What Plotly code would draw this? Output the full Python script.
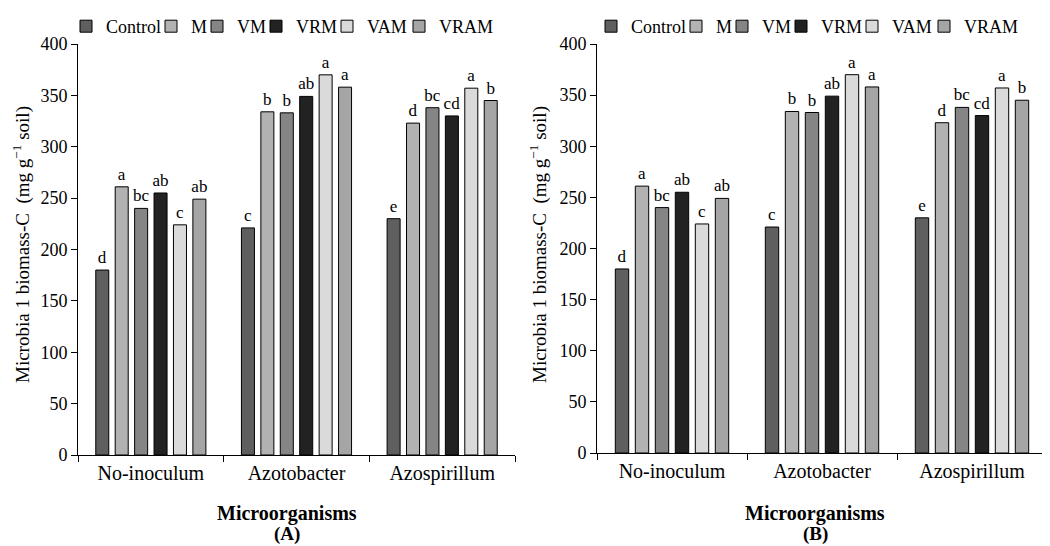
import plotly.graph_objects as go

categories = ["No-inoculum", "Azotobacter", "Azospirillum"]
treatments = ["Control", "M", "VM", "VRM", "VAM", "VRAM"]
colors = ["#5f5f5f", "#b2b2b2", "#858585", "#222222", "#dadada", "#a5a5a5"]

# values per treatment across the three microorganism groups (panel A)
values_A = {
    "Control": [180, 221, 230],
    "M": [261, 334, 323],
    "VM": [240, 333, 338],
    "VRM": [255, 349, 330],
    "VAM": [224, 370, 357],
    "VRAM": [249, 358, 345],
}
letters_A = {
    "Control": ["d", "c", "e"],
    "M": ["a", "b", "d"],
    "VM": ["bc", "b", "bc"],
    "VRM": ["ab", "ab", "cd"],
    "VAM": ["c", "a", "a"],
    "VRAM": ["ab", "a", "b"],
}
# panel B
values_B = {
    "Control": [180, 221, 230],
    "M": [261, 334, 323],
    "VM": [240, 333, 338],
    "VRM": [255, 349, 330],
    "VAM": [224, 370, 357],
    "VRAM": [249, 358, 345],
}
letters_B = {
    "Control": ["d", "c", "e"],
    "M": ["a", "b", "d"],
    "VM": ["bc", "b", "bc"],
    "VRM": ["ab", "ab", "cd"],
    "VAM": ["c", "a", "a"],
    "VRAM": ["ab", "a", "b"],
}
y_ticks = [0, 50, 100, 150, 200, 250, 300, 350, 400]

FONT = "Liberation Serif, Times New Roman, serif"
PAGE_OFF = 8            # default body margin of the written page
W, H = 1050 - PAGE_OFF, 546 - PAGE_OFF

# layout: screen-pixel x of each legend key centre (left panel); right panel offset
LEGEND_KEY_X = [86, 171, 217, 276, 347, 419]
RIGHT_OFFSET = 525
LEGEND_KEY_DX = 20  # legend box left edge -> key centre

def px_x(p):
    return (p - PAGE_OFF) / W

def px_y(p):
    return (H - (p - PAGE_OFF)) / H

fig = go.Figure()
legend_layouts = {}
n = 0
for panel, (vals, lets, xa, ya, off) in enumerate([
    (values_A, letters_A, "x", "y", 0),
    (values_B, letters_B, "x2", "y2", RIGHT_OFFSET),
]):
    for i, (t, c) in enumerate(zip(treatments, colors)):
        n += 1
        leg = "legend" if n == 1 else f"legend{n}"
        fig.add_trace(go.Bar(
            x=categories, y=vals[t], name=t,
            marker=dict(color=c, line=dict(color="#000000", width=1)),
            text=lets[t], textposition="outside", constraintext="none",
            textfont=dict(family=FONT, size=17, color="#000"),
            cliponaxis=False,
            xaxis=xa, yaxis=ya, legend=leg,
        ))
        legend_layouts[leg] = dict(
            orientation="h", x=px_x(LEGEND_KEY_X[i] + off - LEGEND_KEY_DX), xanchor="left",
            y=1, yanchor="top", font=dict(family=FONT, size=18, color="#000"),
            itemwidth=30, bgcolor="rgba(0,0,0,0)", borderwidth=0,
        )

axis_common_x = dict(
    type="category", range=[-0.5, 2.5], showline=True, linecolor="#000", linewidth=1,
    ticks="outside", tickson="boundaries", ticklen=6, tickcolor="#000",
    showgrid=False, zeroline=False,
    tickfont=dict(family=FONT, size=20, color="#000"), automargin=False,
)
axis_common_y = dict(
    range=[0, 400], tickvals=y_ticks, showline=True, linecolor="#000", linewidth=1,
    ticks="outside", ticklen=6, tickcolor="#000", showgrid=False, zeroline=False,
    tickfont=dict(family=FONT, size=18, color="#000"), automargin=False,
)

fig.update_layout(
    width=W, height=H,
    margin=dict(l=0, r=0, t=0, b=0),
    paper_bgcolor="white", plot_bgcolor="white",
    barmode="group", bargap=0.2, bargroupgap=0.33,
    font=dict(family=FONT, color="#000"),
    xaxis=dict(domain=[px_x(78), px_x(515)], anchor="y", **axis_common_x),
    yaxis=dict(domain=[px_y(455), px_y(44)], anchor="x", **axis_common_y),
    xaxis2=dict(domain=[px_x(597), px_x(1047)], anchor="y2", **axis_common_x),
    yaxis2=dict(domain=[px_y(453), px_y(44)], anchor="x2", **axis_common_y),
    showlegend=True,
    **legend_layouts,
)

ytitle = "Microbia 1 biomass-C  (mg g<sup>\u22121</sup> soil)"
for xc, xlab_c, lab in [(21, 287, "(A)"), (538, 815, "(B)")]:
    fig.add_annotation(text=ytitle, textangle=-90, x=px_x(xc), y=px_y(245),
                       xref="paper", yref="paper", showarrow=False,
                       xanchor="center", yanchor="middle",
                       font=dict(family=FONT, size=19, color="#000"))
    fig.add_annotation(text="<b>Microorganisms</b>", x=px_x(xlab_c), y=px_y(513),
                       xref="paper", yref="paper", showarrow=False,
                       xanchor="center", yanchor="middle",
                       font=dict(family=FONT, size=20, color="#000"))
    fig.add_annotation(text="<b>" + lab + "</b>", x=px_x(xlab_c), y=px_y(534),
                       xref="paper", yref="paper", showarrow=False,
                       xanchor="center", yanchor="middle",
                       font=dict(family=FONT, size=19, color="#000"))

fig.write_html("out.html")
